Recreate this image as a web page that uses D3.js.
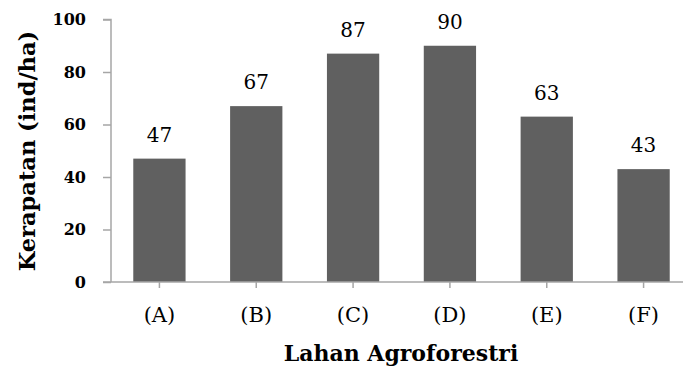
<!DOCTYPE html>
<html><head><meta charset="utf-8">
<script src="https://cdn.jsdelivr.net/npm/d3@7"></script>
<style>html,body{margin:0;padding:0;background:#fff;overflow:hidden}</style>
</head><body>
<svg id="chart" width="683" height="368"></svg>
<script>
const categories = ["(A)", "(B)", "(C)", "(D)", "(E)", "(F)"];
const values = [47, 67, 87, 90, 63, 43];
const yTicks = [0, 20, 40, 60, 80, 100];
const yTitle = "Kerapatan (ind/ha)";
const xTitle = "Lahan Agroforestri";

const font = "'DejaVu Serif', 'Liberation Serif', serif";
const svg = d3.select("#chart");
const x = d3.scaleBand().domain(categories).range([111, 692]).paddingInner(0.46).paddingOuter(0.23);
const y = d3.scaleLinear().domain([0, 100]).range([282, 19.5]);
const axisColor = "#a6a6a6";

// bars
svg.selectAll("rect.bar").data(values).join("rect")
  .attr("class", "bar")
  .attr("x", (d, i) => x(categories[i]))
  .attr("width", x.bandwidth())
  .attr("y", d => y(d))
  .attr("height", d => y(0) - y(d))
  .attr("fill", "#606060");

// y axis
const gy = svg.append("g").attr("transform", "translate(111,0)")
  .call(d3.axisLeft(y).tickValues(yTicks).tickSize(8).tickPadding(17).tickFormat(d3.format("d")));
gy.select(".domain").attr("stroke", axisColor).attr("stroke-width", 1.5).attr("d", "M-8," + y(100) + "H0V" + y(0));
gy.selectAll(".tick line").attr("stroke", axisColor).attr("stroke-width", 1.5);
gy.selectAll(".tick text").attr("font-family", font).attr("font-size", 16).attr("fill", "#000").attr("font-weight", "bold");

// x axis
const gx = svg.append("g").attr("transform", "translate(0,282)")
  .call(d3.axisBottom(x).tickSize(6).tickPadding(19));
gx.select(".domain").attr("stroke", axisColor).attr("stroke-width", 1.5).attr("d", "M103,0H692");
gx.selectAll(".tick line").attr("stroke", axisColor).attr("stroke-width", 1.5);
gx.selectAll(".tick text").attr("font-family", font).attr("font-size", 21).attr("fill", "#000");

// value labels
svg.selectAll("text.val").data(values).join("text")
  .attr("class", "val")
  .attr("x", (d, i) => x(categories[i]) + x.bandwidth() / 2)
  .attr("y", d => y(d) - 17)
  .attr("text-anchor", "middle")
  .attr("font-family", font).attr("font-size", 20).attr("fill", "#000")
  .text(d => d);

// titles
svg.append("text")
  .attr("transform", "translate(35,151) rotate(-90)")
  .attr("text-anchor", "middle")
  .attr("font-family", font).attr("font-size", 22.5).attr("font-weight", "bold")
  .text(yTitle);
svg.append("text")
  .attr("x", 401).attr("y", 361)
  .attr("text-anchor", "middle")
  .attr("font-family", font).attr("font-size", 22).attr("font-weight", "bold")
  .text(xTitle);
</script>
</body></html>
